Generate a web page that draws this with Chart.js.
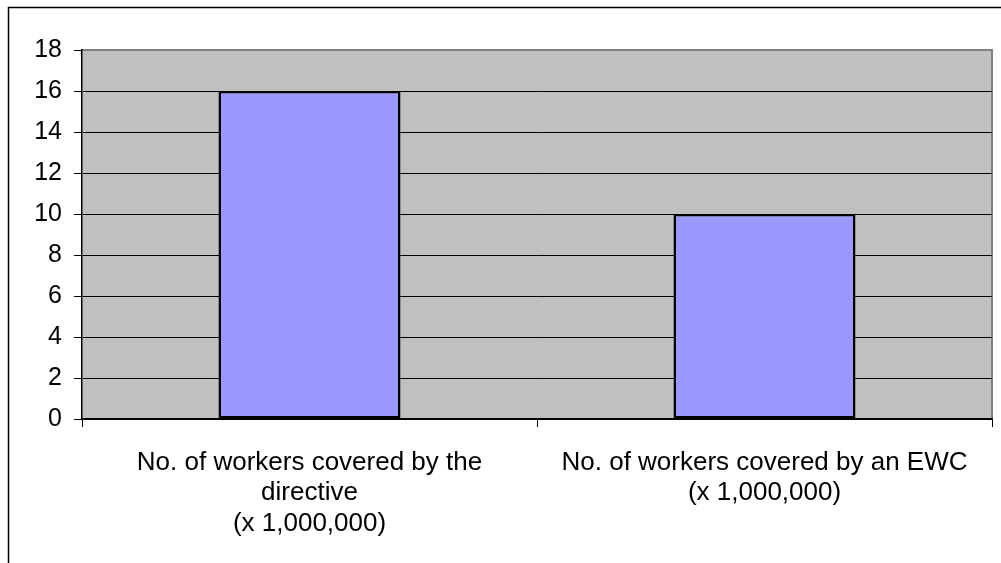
<!DOCTYPE html>
<html>
<head>
<meta charset="utf-8">
<script src="https://cdn.jsdelivr.net/npm/chart.js@4.4.0/dist/chart.umd.min.js"></script>
<style>
  html, body { margin: 0; padding: 0; background: #ffffff; }
  #wrap { position: relative; width: 1001px; height: 563px; }
  canvas { display: block; }
</style>
</head>
<body>
<div id="wrap"><canvas id="c" width="1001" height="563"></canvas></div>
<script>
const categories = [
  ['No. of workers covered by the', 'directive', '(x 1,000,000)'],
  ['No. of workers covered by an EWC', '(x 1,000,000)']
];
const values = [16, 10];
const yTicks = [0, 2, 4, 6, 8, 10, 12, 14, 16, 18];

const FONT = '"Liberation Sans", Arial, sans-serif';

const framePlugin = {
  id: 'frame',
  beforeDraw(chart) {
    const ctx = chart.ctx;
    const a = chart.chartArea;
    ctx.save();
    // outer chart border
    ctx.strokeStyle = '#000000';
    ctx.lineWidth = 1.5;
    ctx.strokeRect(8.5, 7.5, 1200, 1200);
    // plot background
    ctx.fillStyle = '#C0C0C0';
    ctx.fillRect(a.left, a.top, a.right - a.left, a.bottom - a.top);
    // gray top/right frame
    ctx.strokeStyle = '#808080';
    ctx.lineWidth = 2;
    ctx.beginPath();
    ctx.moveTo(a.left, a.top);
    ctx.lineTo(a.right, a.top);
    ctx.lineTo(a.right, a.bottom);
    ctx.stroke();
    ctx.restore();
  }
};

new Chart(document.getElementById('c'), {
  type: 'bar',
  data: {
    labels: categories,
    datasets: [{
      data: values,
      backgroundColor: '#9999FF',
      borderColor: '#000000',
      borderWidth: 2.5,
      borderSkipped: false,
      categoryPercentage: 1.0,
      barPercentage: 0.4
    }]
  },
  options: {
    responsive: false,
    animation: false,
    devicePixelRatio: 1,
    layout: { padding: { left: 0, right: 9, top: 50, bottom: 0 } },
    plugins: { legend: { display: false }, tooltip: { enabled: false } },
    scales: {
      x: {
        offset: true,
        grid: {
          offset: true,
          drawOnChartArea: false,
          drawTicks: true,
          tickLength: 8,
          tickColor: '#000000',
          lineWidth: 1
        },
        border: { display: true, color: '#000000', width: 1.5 },
        ticks: {
          color: '#000000',
          font: { family: FONT, size: 26, lineHeight: 1.16 },
          padding: 21,
          maxRotation: 0,
          autoSkip: false
        },
        afterFit(s) { s.height = 144; }
      },
      y: {
        min: 0,
        max: 18,
        afterBuildTicks(s) { s.ticks = yTicks.map(v => ({ value: v })); },
        grid: {
          color: ctx => (ctx.tick && ctx.tick.value === 18) ? 'rgba(0,0,0,0)' : '#000000',
          tickColor: '#000000',
          lineWidth: 1,
          tickLength: 8,
          drawTicks: true
        },
        border: { display: true, color: '#000000', width: 1.5 },
        ticks: {
          color: '#000000',
          font: { family: FONT, size: 25 },
          padding: 12
        },
        afterFit(s) { s.width = 82; }
      }
    }
  },
  plugins: [framePlugin]
});
</script>
</body>
</html>
